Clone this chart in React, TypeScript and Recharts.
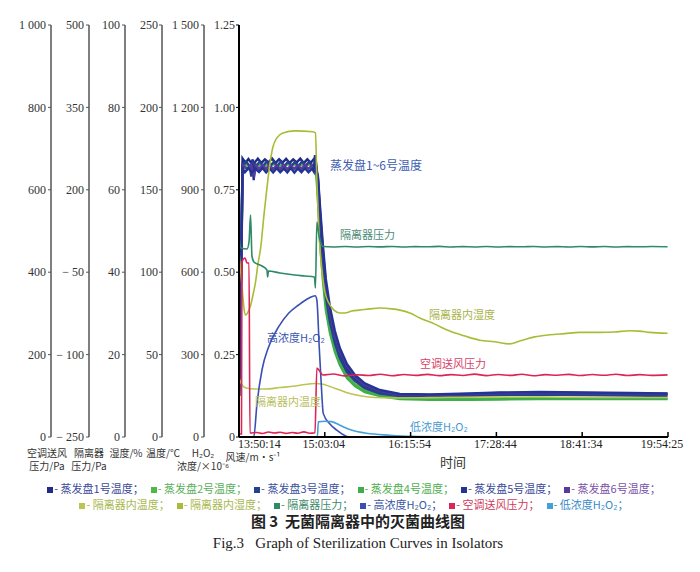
import { Line, LineChart, XAxis, YAxis } from "recharts";

// elapsed minutes from 13:50:14
const timeTicks = [0, 72.83, 145.67, 218.5, 291.33, 364.18];
const timeLabels = ["13:50:14", "15:03:04", "16:15:54", "17:28:44", "18:41:34", "19:54:25"];

const windTicks = [0, 0.25, 0.5, 0.75, 1, 1.25];
const windLabels = ["0", "0.25", "0.50", "0.75", "1.00", "1.25"];
const h2o2Ticks = [0, 300, 600, 900, 1200, 1500];
const h2o2Labels = ["0", "300", "600", "900", "1 200", "1 500"];
const tempTicks = [0, 50, 100, 150, 200, 250];
const humTicks = [0, 20, 40, 60, 80, 100];
const isoTicks = [-250, -100, 50, 200, 350, 500];
const isoLabels = ["− 250", "− 100", "− 50", "200", "350", "500"];
const acTicks = [0, 200, 400, 600, 800, 1000];
const acLabels = ["0", "200", "400", "600", "800", "1 000"];

// evaporator plate temperatures, deg C
const plate1: [number, number][] = [
	[0, 24.9], [1.7, 95.0], [3.0, 169.0], [5.5, 166.4], [8, 168.7], [10.5, 166.2], [11.8, 168.4], [12.5, 155.9],
	[13.3, 166.5], [16, 168.9], [19, 166.3], [22, 168.5], [25, 166.6], [28, 169.0], [31, 166.2], [34, 168.6],
	[37, 166.5], [40, 168.8], [43, 166.3], [46, 168.4], [49, 166.6], [52, 168.9], [55, 166.2], [58, 168.5],
	[61, 166.4], [63.5, 168.7], [64.7, 169.5], [65.3, 166.9], [67.0, 155.9], [68.7, 134.7], [71.2, 109.2],
	[73.7, 89.2], [77.2, 72.8], [81.4, 59.5], [85.6, 50.4], [91.6, 41.3], [98.4, 35.2], [106.8, 30.9],
	[119.6, 27.3], [136.5, 25.5], [161.9, 25.2], [195.9, 25.8], [221.3, 26.4], [255.2, 26.7], [291.7, 26.4],
	[331.5, 26.1], [363.8, 26.1],
];
const plate2: [number, number][] = [
	[0, 24.9], [1.7, 85.0], [3.0, 165.5], [8, 164.6], [14, 165.4], [20, 164.7], [28, 165.5], [36, 164.8],
	[44, 165.4], [52, 164.8], [60, 165.3], [64.7, 165.0], [65.3, 164.4], [67.0, 148.7], [68.7, 125.6],
	[71.2, 100.1], [73.7, 81.3], [77.2, 66.1], [81.4, 54.0], [85.6, 45.5], [91.6, 37.6], [98.4, 32.2],
	[106.8, 28.5], [119.6, 25.5], [136.5, 23.7], [161.9, 23.1], [195.9, 23.1], [221.3, 23.4], [255.2, 23.7],
	[291.7, 23.4], [331.5, 23.4], [363.8, 23.4],
];
const plate3: [number, number][] = [
	[0, 24.9], [1.7, 90.0], [3.0, 165.0], [6, 167.2], [9, 164.5], [10.5, 158.0], [11.5, 166.8], [14.5, 164.3],
	[17.5, 167.0], [20.5, 164.6], [23.5, 167.1], [26.5, 164.4], [29.5, 166.9], [32.5, 164.5], [35.5, 167.2],
	[38.5, 164.3], [41.5, 167.0], [44.5, 164.6], [47.5, 166.8], [50.5, 164.4], [53.5, 167.1], [56.5, 164.5],
	[59.5, 166.9], [62.5, 164.6], [64.7, 166.5], [65.3, 165.7], [67.0, 152.9], [68.7, 130.5], [71.2, 105.0],
	[73.7, 85.6], [77.2, 69.8], [81.4, 57.0], [85.6, 47.9], [91.6, 39.4], [98.4, 34.0], [106.8, 29.7],
	[119.6, 26.4], [136.5, 24.9], [161.9, 24.6], [195.9, 24.9], [221.3, 25.5], [255.2, 25.8], [291.7, 25.5],
	[331.5, 25.2], [363.8, 24.9],
];
const plate4: [number, number][] = [
	[0, 24.9], [1.7, 80.0], [3.0, 163.6], [10, 162.8], [18, 163.5], [26, 162.9], [34, 163.6], [42, 162.8],
	[50, 163.4], [58, 163.0], [64.7, 163.3], [65.3, 163.2], [67.0, 143.8], [68.7, 119.5], [71.2, 95.3],
	[73.7, 77.1], [77.2, 63.1], [81.4, 51.6], [85.6, 43.7], [91.6, 35.8], [98.4, 30.9], [106.8, 27.3],
	[119.6, 24.9], [136.5, 23.1], [161.9, 22.5], [195.9, 22.5], [221.3, 22.8], [255.2, 23.1], [291.7, 23.1],
	[331.5, 23.1], [363.8, 23.1],
];
const plate5: [number, number][] = [
	[0, 24.9], [1.7, 100.0], [3.0, 163.0], [5, 160.7], [8, 163.1], [11, 160.5], [14, 162.9], [17, 160.8],
	[20, 163.2], [23, 160.6], [26, 163.0], [29, 160.5], [32, 163.1], [35, 160.7], [38, 162.9], [41, 160.6],
	[44, 163.2], [47, 160.5], [50, 163.0], [53, 160.7], [56, 163.1], [59, 160.6], [62, 162.8], [63.5, 161.0],
	[64.5, 171.1], [65.3, 162.0], [67.0, 158.4], [68.7, 140.8], [71.2, 116.5], [73.7, 95.9], [77.2, 78.9],
	[81.4, 64.3], [85.6, 54.0], [91.6, 44.3], [98.4, 37.6], [106.8, 32.5], [119.6, 28.5], [136.5, 26.1],
	[161.9, 25.8], [195.9, 26.4], [221.3, 27.0], [255.2, 27.3], [291.7, 27.0], [331.5, 26.7], [363.8, 26.4],
];
const plate6: [number, number][] = [
	[0, 24.9], [1.7, 92.0], [3.0, 165.0], [7, 162.6], [10, 165.1], [13.0, 159.0], [14.5, 164.9], [17, 162.5],
	[20, 165.0], [23, 162.7], [26, 165.2], [29, 162.4], [32, 164.9], [35, 162.6], [38, 165.1], [41, 162.5],
	[44, 164.8], [47, 162.7], [50, 165.0], [53, 162.4], [56, 165.1], [59, 162.6], [62, 164.9], [64.7, 163.0],
	[65.3, 163.8], [67.0, 157.2], [68.7, 137.7], [71.2, 113.5], [73.7, 92.8], [77.2, 75.9], [81.4, 61.9],
	[85.6, 52.2], [91.6, 43.1], [98.4, 36.4], [106.8, 31.6], [119.6, 27.9], [136.5, 25.8], [161.9, 25.5],
	[195.9, 26.1], [221.3, 26.7], [255.2, 27.0], [291.7, 26.7], [331.5, 26.4], [363.8, 26.1],
];

// isolator temperature (deg C) and humidity (%)
const isoTemp: [number, number][] = [
	[0, 35.8], [2.5, 31.6], [6.0, 29.7], [13.6, 29.1], [22.0, 29.1], [34.8, 30.0], [47.5, 30.9], [56.0, 31.9],
	[64.4, 32.5], [70.4, 32.2], [77.2, 30.6], [85.6, 28.5], [94.1, 26.4], [104.3, 24.9], [115.3, 24.0],
	[128.0, 23.7], [161.9, 23.9], [204.4, 24.3], [255.2, 24.3], [306.1, 24.0], [363.8, 24.0],
];
const isoHum: [number, number][] = [
	[0, 44.9], [2.5, 36.9], [4.2, 31.3], [5.7, 29.6], [7.6, 30.3], [9.9, 32.0], [11.9, 34.5], [14.2, 37.9],
	[16.1, 42.0], [18.4, 45.9], [21.2, 53.9], [23.7, 60.4], [26.3, 66.5], [28.8, 70.4], [32.2, 72.6],
	[37.3, 73.8], [47.5, 74.3], [62.7, 74.1], [64.9, 73.8], [66.1, 62.4], [67.8, 50.2], [70.4, 40.5],
	[72.9, 35.2], [76.3, 32.5], [80.6, 30.8], [85.6, 30.1], [89.9, 30.1], [95.8, 30.6], [102.6, 30.8],
	[111.1, 31.1], [119.6, 31.3], [129.7, 31.1], [136.5, 30.8], [145.0, 30.1], [153.5, 28.9], [166.2, 27.4],
	[178.9, 25.7], [191.7, 24.5], [204.4, 23.5], [217.1, 23.1], [229.8, 22.6], [238.3, 23.3], [251.0, 24.3],
	[263.7, 24.8], [276.4, 25.1], [289.1, 25.4], [306.1, 25.4], [318.8, 25.5], [331.5, 25.8], [340.0, 25.7],
	[348.5, 25.4], [363.8, 25.2],
];

// isolator pressure (Pa)
const isoPress: [number, number][] = [
	[0, 114.1], [1.7, 94.1], [6.8, 92.2], [8.5, 105.0], [9.8, 154.1], [11.0, 79.5], [12.7, 68.6], [19.5, 61.3],
	[23.7, 54.0], [24.3, 41.3], [25.0, 52.2], [34.8, 48.5], [47.5, 44.9], [56.0, 43.1], [64.0, 41.3],
	[64.9, 21.2], [66.1, 141.4], [67.8, 117.7], [69.5, 103.2], [71.2, 96.8], [80, 96.0], [90, 96.9],
	[100, 95.8], [110, 96.7], [120, 96.1], [130, 96.9], [140, 95.9], [150, 96.6], [160, 96.2], [170, 97.0],
	[180, 95.9], [190, 96.5], [200, 96.0], [210, 96.8], [220, 95.8], [230, 96.6], [240, 96.2], [250, 96.9],
	[260, 96.0], [270, 96.5], [280, 95.9], [290, 96.7], [300, 96.1], [310, 96.8], [320, 95.9], [330, 96.6],
	[340, 96.2], [350, 96.7], [363.8, 96.3],
];

// air-conditioning supply pressure (Pa)
const acPress: [number, number][] = [
	[0, 7.3], [2.1, 7.3], [2.5, 424.8], [5.1, 434.5], [6.8, 422.3], [8.5, 422.3], [9.3, 9.7], [15, 11.0],
	[20, 8.5], [25, 12.1], [30, 9.7], [35, 11.6], [40, 8.7], [45, 10.9], [50, 9.2], [55, 12.4], [60, 9.0],
	[64.5, 10.2], [66.1, 167.5], [67.8, 162.6], [71.2, 150.5], [80, 152.9], [90, 148.3], [100, 151.2],
	[110, 149.3], [120, 152.4], [130, 148.8], [140, 151.7], [150, 149.6], [160, 152.1], [170, 148.9],
	[180, 151.5], [190, 149.4], [200, 152.6], [210, 149.0], [220, 151.8], [230, 149.5], [240, 152.2],
	[250, 148.7], [260, 151.4], [270, 149.8], [280, 152.0], [290, 149.2], [300, 151.6], [310, 149.7],
	[320, 152.3], [330, 149.1], [340, 151.3], [350, 149.6], [363.8, 150.8],
];

// H2O2 concentration, x10^-6
const highH2O2: [number, number][] = [
	[0, 0], [12.5, 0], [15.3, 122.7], [19.5, 244.0], [25.2, 328.8], [33.7, 401.6], [42.1, 450.4], [50.6, 480.6],
	[59.1, 505.0], [64.7, 514.5], [66.1, 498.8], [68.1, 328.8], [70.1, 171.1], [71.5, 86.0], [77.2, 47.3],
	[82.8, 25.5], [92.7, 1.1], [102.6, 0],
];
const lowH2O2: [number, number][] = [
	[0, 0], [66.5, 0], [67.4, 55.0], [72.9, 57.5], [78.6, 56.0], [85.6, 43.0], [94.1, 27.3], [108.3, 13.5],
	[128.0, 6.6], [146.7, 2.5], [178.9, 0.7], [220.0, 0], [363.8, 0],
];

const pts = (a: [number, number][]) => a.map(([t, v]) => ({ t, v }));

// axis ids are ordered alphabetically from the plot outwards
const series = [
	{ name: "蒸发盘2号温度", data: plate2, axis: "c_temp", color: "#4fb84a", text: "#5aae5a", plate: true },
	{ name: "蒸发盘4号温度", data: plate4, axis: "c_temp", color: "#3fae4a", text: "#4fae4f", plate: true },
	{ name: "蒸发盘1号温度", data: plate1, axis: "c_temp", color: "#1f2b86", text: "#3a4a9a", plate: true },
	{ name: "蒸发盘3号温度", data: plate3, axis: "c_temp", color: "#24408f", text: "#3a4f9e", plate: true },
	{ name: "蒸发盘6号温度", data: plate6, axis: "c_temp", color: "#5a3a9c", text: "#7a52a8", plate: true },
	{ name: "蒸发盘5号温度", data: plate5, axis: "c_temp", color: "#243494", text: "#3a4a9a", plate: true },
	{ name: "隔离器内温度", data: isoTemp, axis: "c_temp", color: "#bcc552", text: "#a9b850", plate: false },
	{ name: "隔离器内湿度", data: isoHum, axis: "d_hum", color: "#aabb38", text: "#a9b850", plate: false },
	{ name: "隔离器压力", data: isoPress, axis: "e_iso", color: "#2f8a66", text: "#3f8a6a", plate: false },
	{ name: "高浓度H₂O₂", data: highH2O2, axis: "b_h2o2", color: "#3a4fb4", text: "#3a55a5", plate: false },
	{ name: "空调送风压力", data: acPress, axis: "f_ac", color: "#dc2456", text: "#d03a5c", plate: false },
	{ name: "低浓度H₂O₂", data: lowH2O2, axis: "b_h2o2", color: "#46a0d6", text: "#3a8ac8", plate: false },
];

const legendRow1 = ["蒸发盘1号温度", "蒸发盘2号温度", "蒸发盘3号温度", "蒸发盘4号温度", "蒸发盘5号温度", "蒸发盘6号温度"];
const legendRow2 = ["隔离器内温度", "隔离器内湿度", "隔离器压力", "高浓度H₂O₂", "空调送风压力", "低浓度H₂O₂"];

const serif = "'Liberation Serif', 'DejaVu Serif', serif";
const cjk = "'Noto Sans CJK SC', sans-serif";
const axisTick = { fill: "#333", fontSize: 12, fontFamily: serif };
const grayLine = { stroke: "#555", strokeWidth: 1.5 };

const TimeTick = (props: any) => {
	const { x, y, index } = props;
	const last = index === timeTicks.length - 1;
	return (
		<g>
			<line x1={x} x2={x} y1={y - 5} y2={y} stroke="#000" strokeWidth={1.5} />
			<text
				x={index === 0 ? x - 1 : last ? x - 6 : x - 1}
				y={y + 11}
				textAnchor={index === 0 ? "start" : "middle"}
				fontSize={12}
				fontFamily={serif}
				fill="#222"
			>
				{timeLabels[index]}
			</text>
		</g>
	);
};

const Abs = ({ left, top, color, size = 11, lh, children, center }: any) => (
	<div
		style={{
			position: "absolute",
			left,
			top,
			transform: center ? "translateX(-50%)" : undefined,
			textAlign: "center",
			color,
			fontSize: size,
			lineHeight: `${lh ?? size + 1}px`,
			fontFamily: cjk,
			whiteSpace: "nowrap",
			pointerEvents: "none",
		}}
	>
		{children}
	</div>
);

const LegendRow = ({ names, top }: { names: string[]; top: number }) => (
	<div
		style={{
			position: "absolute",
			left: 0,
			width: 692,
			top,
			display: "flex",
			justifyContent: "center",
			fontFamily: cjk,
			fontSize: 11,
			lineHeight: "14px",
			whiteSpace: "nowrap",
		}}
	>
		{names.map((n, i) => {
			const s = series.find((d) => d.name === n)!;
			return (
				<span key={n} style={{ color: s.text, marginRight: i === names.length - 1 ? 0 : 7 }}>
					<span style={{ display: "inline-block", width: 6, height: 6, background: s.color, marginRight: 1 }} />- {n}；
				</span>
			);
		})}
	</div>
);

export default function App() {
	return (
		<div style={{ position: "relative", width: 692, height: 556 }}>
			<LineChart width={692} height={470} margin={{ top: 17, right: 32, bottom: 21, left: 0 }}>
				<XAxis
					type="number"
					dataKey="t"
					domain={[0, 364.18]}
					ticks={timeTicks}
					interval={0}
					allowDataOverflow
					height={20}
					tickSize={0}
					tickMargin={0}
					tickLine={false}
					axisLine={{ stroke: "#000", strokeWidth: 2 }}
					tick={<TimeTick />}
				/>
				<YAxis
					yAxisId="a_wind"
					domain={[0, 1.25]}
					allowDataOverflow
					ticks={windTicks}
					interval={0}
					width={35}
					tickSize={3}
					tickMargin={1}
					tick={axisTick}
					tickFormatter={(v: number) => windLabels[windTicks.indexOf(v)]}
					axisLine={{ stroke: "#000", strokeWidth: 2 }}
					tickLine={{ stroke: "#000" }}
				/>
				<YAxis
					yAxisId="b_h2o2"
					domain={[0, 1500]}
					ticks={h2o2Ticks}
					interval={0}
					width={42}
					tickSize={3}
					tickMargin={2}
					tick={axisTick}
					tickFormatter={(v: number) => h2o2Labels[h2o2Ticks.indexOf(v)]}
					axisLine={grayLine}
					tickLine={{ stroke: "#555" }}
				/>
				<YAxis
					yAxisId="c_temp"
					domain={[0, 250]}
					ticks={tempTicks}
					interval={0}
					width={37}
					tickSize={3}
					tickMargin={1}
					tick={axisTick}
					axisLine={grayLine}
					tickLine={{ stroke: "#555" }}
				/>
				<YAxis
					yAxisId="d_hum"
					domain={[0, 100]}
					ticks={humTicks}
					interval={0}
					width={36}
					tickSize={3}
					tickMargin={2}
					tick={axisTick}
					axisLine={grayLine}
					tickLine={{ stroke: "#555" }}
				/>
				<YAxis
					yAxisId="e_iso"
					domain={[-250, 500]}
					ticks={isoTicks}
					interval={0}
					width={38}
					tickSize={3}
					tickMargin={2}
					tick={axisTick}
					tickFormatter={(v: number) => isoLabels[isoTicks.indexOf(v)]}
					axisLine={grayLine}
					tickLine={{ stroke: "#555" }}
				/>
				<YAxis
					yAxisId="f_ac"
					domain={[0, 1000]}
					ticks={acTicks}
					interval={0}
					width={43}
					tickSize={3}
					tickMargin={2}
					tick={axisTick}
					tickFormatter={(v: number) => acLabels[acTicks.indexOf(v)]}
					axisLine={grayLine}
					tickLine={{ stroke: "#555" }}
				/>
				{series.map((s) => (
					<Line
						key={s.name}
						yAxisId={s.axis}
						data={pts(s.data)}
						dataKey="v"
						type={s.plate ? "linear" : "monotone"}
						stroke={s.color}
						strokeWidth={s.plate ? 2.4 : 1.6}
						dot={false}
						activeDot={false}
						isAnimationActive={false}
					/>
				))}
			</LineChart>

			{/* curve labels */}
			<Abs left={322} top={150} color="#4060b0" size={12}>蒸发盘1~6号温度</Abs>
			<Abs left={332} top={220} color="#4a8a74">隔离器压力</Abs>
			<Abs left={421} top={300} color="#a9b44a">隔离器内湿度</Abs>
			<Abs left={259} top={323} color="#3a58b0">高浓度H₂O₂</Abs>
			<Abs left={412} top={349} color="#d8406a">空调送风压力</Abs>
			<Abs left={247} top={387} color="#b8c060">隔离器内温度</Abs>
			<Abs left={402} top={412} color="#4a9ad0">低浓度H₂O₂</Abs>

			{/* axis titles */}
			<Abs left={39} top={438} color="#333" size={10} lh={13} center>空调送风<br />压力/Pa</Abs>
			<Abs left={81} top={438} color="#333" size={10} lh={13} center>隔离器<br />压力/Pa</Abs>
			<Abs left={118} top={438} color="#333" size={10} lh={13} center>湿度/%</Abs>
			<Abs left={155} top={438} color="#333" size={10} lh={13} center>温度/℃</Abs>
			<Abs left={195} top={438} color="#333" size={10} lh={13} center>H₂O₂<br />浓度/×10⁻⁶</Abs>
			<Abs left={245} top={443} color="#333" size={10} center>风速/m·s⁻¹</Abs>
			<Abs left={445} top={447} color="#333" size={13} center>时间</Abs>

			<LegendRow names={legendRow1} top={473} />
			<LegendRow names={legendRow2} top={489} />

			<div
				style={{
					position: "absolute",
					left: 0,
					width: 700,
					top: 504,
					textAlign: "center",
					fontFamily: cjk,
					fontWeight: 700,
					fontSize: 15,
					lineHeight: "18px",
					color: "#222",
				}}
			>
				图 3&nbsp;&nbsp;无菌隔离器中的灭菌曲线图
			</div>
			<div
				style={{
					position: "absolute",
					left: 0,
					width: 700,
					top: 526,
					textAlign: "center",
					fontFamily: serif,
					fontSize: 15,
					lineHeight: "18px",
					color: "#222",
				}}
			>
				Fig.3&nbsp;&nbsp;&nbsp;Graph of Sterilization Curves in Isolators
			</div>
		</div>
	);
}
